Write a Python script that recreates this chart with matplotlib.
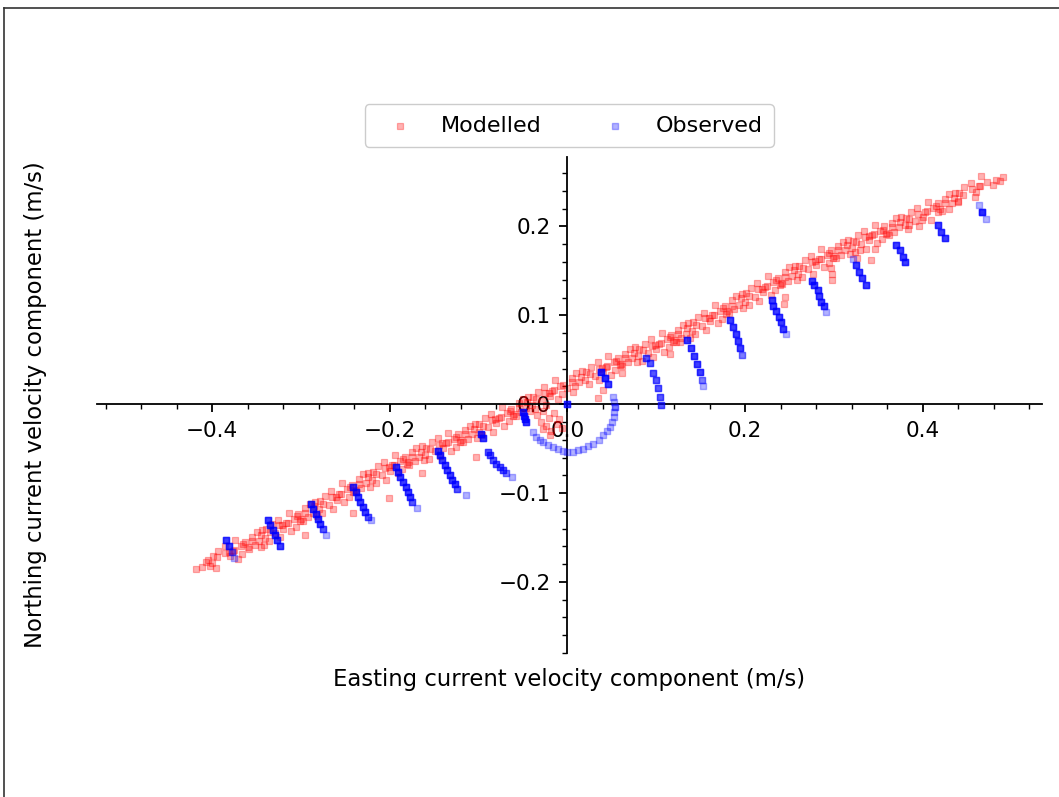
import numpy as np
import matplotlib
matplotlib.use("Agg")
import matplotlib.pyplot as plt
from matplotlib.ticker import MultipleLocator
from matplotlib.lines import Line2D

# ---------------- data ----------------
modelled_east = [
    -0.418, -0.412, -0.407, -0.402,
    -0.399, -0.393, -0.386, -0.381, -0.396,
    -0.377, -0.374, -0.371, -0.368, -0.366, -0.363,
    -0.358, -0.355, -0.352, -0.350, -0.347, -0.344, -0.342,
    -0.339, -0.336, -0.333, -0.329, -0.326, -0.324, -0.321,
    -0.317, -0.314, -0.311, -0.308, -0.306, -0.303, -0.301,
    -0.298, -0.295, -0.292, -0.290, -0.287, -0.284, -0.282,
    -0.279, -0.276, -0.273, -0.269, -0.266, -0.264, -0.261,
    -0.257, -0.254, -0.251, -0.248, -0.246, -0.243, -0.241,
    -0.238, -0.235, -0.232, -0.230, -0.227, -0.224, -0.222,
    -0.219, -0.216, -0.213, -0.209, -0.206, -0.204, -0.201,
    -0.197, -0.194, -0.191, -0.188, -0.186, -0.183, -0.181,
    -0.178, -0.175, -0.172, -0.170, -0.167, -0.164, -0.162,
    -0.159, -0.156, -0.153, -0.149, -0.146, -0.144, -0.141,
    -0.137, -0.134, -0.131, -0.128, -0.126, -0.123, -0.121,
    -0.118, -0.115, -0.112, -0.110, -0.107, -0.104, -0.102,
    -0.099, -0.096, -0.093, -0.089, -0.086, -0.084, -0.081,
    -0.077, -0.074, -0.071, -0.068, -0.066, -0.063, -0.061,
    -0.058, -0.055, -0.052, -0.050, -0.047, -0.044, -0.042,
    -0.039, -0.036, -0.033, -0.029, -0.026, -0.024, -0.021,
    -0.017, -0.014, -0.011, -0.008, -0.006,
    -0.034, -0.030, -0.027, -0.024, -0.021, -0.018, -0.015, -0.012, -0.009, -0.006, -0.020, -0.028,
    0.005, 0.008, 0.010, 0.013, 0.016,
    0.021, 0.024, 0.027, 0.031, 0.034, 0.036, 0.039,
    0.043, 0.046, 0.049, 0.052, 0.054, 0.057, 0.059,
    0.062, 0.065, 0.068, 0.070, 0.073, 0.076, 0.078,
    0.081, 0.084, 0.087, 0.091, 0.094, 0.096, 0.099,
    0.103, 0.106, 0.109, 0.112, 0.114, 0.117, 0.119,
    0.122, 0.125, 0.128, 0.130, 0.133, 0.136, 0.138,
    0.141, 0.144, 0.147, 0.151, 0.154, 0.156, 0.159,
    0.163, 0.166, 0.169, 0.172, 0.174, 0.177, 0.179,
    0.182, 0.185, 0.188, 0.190, 0.193, 0.196, 0.198,
    0.201, 0.204, 0.207, 0.211, 0.214, 0.216, 0.219,
    0.223, 0.226, 0.229, 0.232, 0.234, 0.237, 0.239,
    0.242, 0.245, 0.248, 0.250, 0.253, 0.256, 0.258,
    0.261, 0.264, 0.267, 0.271, 0.274, 0.276, 0.279,
    0.283, 0.286, 0.289, 0.292, 0.294, 0.297, 0.299,
    0.302, 0.305, 0.308, 0.310, 0.313, 0.316, 0.318,
    0.321, 0.324, 0.327, 0.331, 0.334, 0.336, 0.339,
    0.343, 0.346, 0.349, 0.352, 0.354, 0.357, 0.359,
    0.362, 0.365, 0.368, 0.370, 0.373, 0.376,
    0.381, 0.384, 0.387, 0.391, 0.394, 0.396,
    0.403, 0.406, 0.409, 0.412, 0.417,
    0.422, 0.425, 0.430, 0.433, 0.436,
    0.441, 0.447, 0.454, 0.459,
    0.463, 0.466, 0.472, 0.479,
    0.483, 0.487, 0.490,
    0.006, 0.040, 0.034, 0.062, 0.115, 0.127, 0.245, 0.244, 0.297, 0.298,
    0.298, 0.326, 0.342, 0.346, 0.329, 0.417, 0.430, 0.440, 0.399, 0.385,
    -0.296, -0.241, -0.345, -0.103, -0.164, -0.201,
]
modelled_north = [
    -0.185, -0.183, -0.178, -0.182,
    -0.171, -0.165, -0.160, -0.166, -0.184,
    -0.165, -0.153, -0.174, -0.160, -0.169, -0.155,
    -0.163, -0.149, -0.159, -0.144, -0.154, -0.142, -0.158,
    -0.141, -0.154, -0.135, -0.145, -0.130, -0.150, -0.136,
    -0.134, -0.122, -0.143, -0.129, -0.138, -0.124, -0.132,
    -0.131, -0.117, -0.127, -0.112, -0.122, -0.110, -0.126,
    -0.109, -0.122, -0.103, -0.113, -0.098, -0.118, -0.104,
    -0.101, -0.089, -0.110, -0.096, -0.105, -0.091, -0.099,
    -0.098, -0.084, -0.094, -0.079, -0.089, -0.077, -0.093,
    -0.076, -0.089, -0.070, -0.080, -0.065, -0.085, -0.071,
    -0.069, -0.057, -0.078, -0.064, -0.073, -0.059, -0.067,
    -0.068, -0.054, -0.064, -0.049, -0.059, -0.047, -0.063,
    -0.049, -0.062, -0.043, -0.053, -0.038, -0.058, -0.044,
    -0.044, -0.032, -0.053, -0.039, -0.048, -0.034, -0.042,
    -0.043, -0.029, -0.039, -0.024, -0.034, -0.022, -0.038,
    -0.022, -0.035, -0.016, -0.026, -0.011, -0.031, -0.017,
    -0.015, -0.003, -0.024, -0.010, -0.019, -0.005, -0.013,
    -0.013, 0.001, -0.009, 0.006, -0.004, 0.008, -0.008,
    0.008, -0.005, 0.014, 0.004, 0.019, -0.001, 0.013,
    0.015, 0.027, 0.006, 0.020, 0.011,
    -0.012, -0.020, -0.008, -0.025, -0.015, -0.030, -0.010, -0.022, -0.017, -0.027, -0.035, -0.028,
    0.030, 0.020, 0.035, 0.025, 0.037,
    0.036, 0.023, 0.042, 0.032, 0.047, 0.027, 0.041,
    0.042, 0.054, 0.033, 0.047, 0.038, 0.052, 0.044,
    0.043, 0.057, 0.047, 0.062, 0.052, 0.064, 0.048,
    0.062, 0.049, 0.068, 0.058, 0.073, 0.053, 0.067,
    0.068, 0.080, 0.059, 0.073, 0.064, 0.078, 0.070,
    0.070, 0.084, 0.074, 0.089, 0.079, 0.091, 0.075,
    0.092, 0.079, 0.098, 0.088, 0.103, 0.083, 0.097,
    0.100, 0.112, 0.091, 0.105, 0.096, 0.110, 0.102,
    0.103, 0.117, 0.107, 0.122, 0.112, 0.124, 0.108,
    0.125, 0.112, 0.131, 0.121, 0.136, 0.116, 0.130,
    0.132, 0.144, 0.123, 0.137, 0.128, 0.142, 0.134,
    0.135, 0.149, 0.139, 0.154, 0.144, 0.156, 0.140,
    0.156, 0.143, 0.162, 0.152, 0.167, 0.147, 0.161,
    0.163, 0.175, 0.154, 0.168, 0.159, 0.173, 0.165,
    0.164, 0.178, 0.168, 0.183, 0.173, 0.185, 0.169,
    0.184, 0.171, 0.190, 0.180, 0.195, 0.175, 0.189,
    0.190, 0.202, 0.181, 0.195, 0.186, 0.200, 0.192,
    0.190, 0.204, 0.194, 0.209, 0.199, 0.211,
    0.210, 0.197, 0.216, 0.206, 0.221, 0.201,
    0.216, 0.228, 0.207, 0.221, 0.226,
    0.217, 0.231, 0.236, 0.226, 0.238,
    0.238, 0.244, 0.249, 0.233,
    0.245, 0.257, 0.250, 0.247,
    0.252, 0.251, 0.256,
    0.014, 0.016, 0.007, 0.035, 0.057, 0.070, 0.121, 0.113, 0.153, 0.147,
    0.140, 0.164, 0.162, 0.175, 0.173, 0.2165, 0.220, 0.227, 0.207, 0.202,
    -0.147, -0.123, -0.161, -0.059, -0.078, -0.106,
]
# densest core of the modelled band
modelled_core_east = [
    -0.405, -0.400, -0.395, -0.385, -0.380, -0.375, -0.365, -0.360, -0.355,
    -0.345, -0.340, -0.335, -0.325, -0.320, -0.315, -0.305, -0.300, -0.295,
    -0.285, -0.280, -0.275, -0.265, -0.260, -0.255, -0.245, -0.240, -0.235,
    -0.225, -0.220, -0.215, -0.205, -0.200, -0.195, -0.185, -0.180, -0.175,
    -0.165, -0.160, -0.155, -0.145, -0.140, -0.135, -0.125, -0.120, -0.115,
    -0.105, -0.100, -0.095, -0.085, -0.080, -0.075, -0.065, -0.060, -0.055,
    -0.045, -0.040, -0.035, -0.025, -0.020, -0.015, -0.005, 0.000, 0.005,
    0.015, 0.020, 0.025, 0.035, 0.040, 0.045, 0.055, 0.060, 0.065,
    0.075, 0.080, 0.085, 0.095, 0.100, 0.105, 0.115, 0.120, 0.125,
    0.135, 0.140, 0.145, 0.155, 0.160, 0.165, 0.175, 0.180, 0.185,
    0.195, 0.200, 0.205, 0.215, 0.220, 0.225, 0.235, 0.240, 0.245,
    0.255, 0.260, 0.265, 0.275, 0.280, 0.285, 0.295, 0.300, 0.305,
    0.315, 0.320, 0.325, 0.335, 0.340, 0.345, 0.355, 0.360, 0.365,
    0.375, 0.380, 0.385, 0.395, 0.400, 0.405, 0.415, 0.420, 0.425,
    0.435, 0.440, 0.445, 0.455, 0.460, 0.465,
]
modelled_core_north = [
    -0.1755, -0.179, -0.1725, -0.167, -0.1705, -0.164, -0.1575, -0.161, -0.1545,
    -0.147, -0.1505, -0.144, -0.1365, -0.140, -0.1335, -0.126, -0.1295, -0.123,
    -0.115, -0.1185, -0.112, -0.104, -0.1075, -0.101, -0.093, -0.0965, -0.090,
    -0.082, -0.0855, -0.079, -0.0715, -0.075, -0.0685, -0.062, -0.0655, -0.059,
    -0.0535, -0.057, -0.0505, -0.0455, -0.049, -0.0425, -0.037, -0.0405, -0.034,
    -0.0275, -0.031, -0.0245, -0.0175, -0.021, -0.0145, -0.0075, -0.011, -0.0045,
    0.0025, -0.001, 0.0055, 0.0125, 0.009, 0.0155, 0.022, 0.0185, 0.025,
    0.031, 0.0275, 0.034, 0.040, 0.0365, 0.043, 0.049, 0.0455, 0.052,
    0.0575, 0.054, 0.0605, 0.066, 0.0625, 0.069, 0.0755, 0.072, 0.0785,
    0.086, 0.0825, 0.089, 0.097, 0.0935, 0.100, 0.108, 0.1045, 0.111,
    0.119, 0.1155, 0.122, 0.1295, 0.126, 0.1325, 0.140, 0.1365, 0.143,
    0.1505, 0.147, 0.1535, 0.1605, 0.157, 0.1635, 0.170, 0.1665, 0.173,
    0.179, 0.1755, 0.182, 0.188, 0.1845, 0.191, 0.1965, 0.193, 0.1995,
    0.205, 0.2015, 0.208, 0.214, 0.2105, 0.217, 0.223, 0.2195, 0.226,
    0.2325, 0.229, 0.2355, 0.2425, 0.239, 0.2455,
]

observed_east = [
    0.463, 0.467, 0.471,
    0.417, 0.421, 0.425,
    0.370, 0.374, 0.378, 0.380,
    0.322, 0.325, 0.328, 0.332, 0.336,
    0.275, 0.278, 0.282, 0.283, 0.286, 0.289, 0.291,
    0.230, 0.232, 0.235, 0.238, 0.241, 0.243, 0.246,
    0.183, 0.186, 0.190, 0.192, 0.194, 0.196,
    0.135, 0.139, 0.142, 0.146, 0.149, 0.151, 0.153,
    0.0886, 0.0927, 0.0964, 0.0994, 0.102, 0.104, 0.105,
    0.038, 0.042, 0.046, 0.0514, 0.0524, 0.0533, 0.0530, 0.0521, 0.050, 0.0476,
    0.044, 0.0401, 0.035, 0.0289, 0.023, 0.0176, 0.012, 0.0063, 0.000, -0.005,
    -0.011, -0.0162, -0.022, -0.0275, -0.031, -0.0349, -0.0387,
    0.0,
    -0.050, -0.049, -0.048, -0.047,
    -0.0968, -0.095, -0.0894, -0.0867, -0.0838, -0.080, -0.0762, -0.0725, -0.0687, -0.062,
    -0.1457, -0.1438, -0.1408, -0.1382, -0.1356, -0.1326, -0.1295, -0.1266, -0.124, -0.1146,
    -0.1926, -0.1908, -0.1881, -0.1851, -0.1821, -0.1795, -0.1768, -0.1745, -0.1689,
    -0.2414, -0.2384, -0.2358, -0.2331, -0.2302, -0.2275, -0.2245, -0.2215,
    -0.2883, -0.2865, -0.2835, -0.2809, -0.2782, -0.2752, -0.2714,
    -0.3372, -0.3345, -0.3315, -0.3288, -0.3266, -0.324,
    -0.384, -0.381, -0.378, -0.3758,
]
observed_north = [
    0.224, 0.216, 0.208,
    0.2016, 0.194, 0.1866,
    0.179, 0.173, 0.166, 0.160,
    0.163, 0.157, 0.149, 0.142, 0.134,
    0.139, 0.134, 0.128, 0.122, 0.115, 0.110, 0.104,
    0.117, 0.111, 0.105, 0.098, 0.092, 0.085, 0.079,
    0.095, 0.087, 0.079, 0.071, 0.063, 0.055,
    0.072, 0.063, 0.054, 0.045, 0.036, 0.027, 0.021,
    0.0515, 0.0458, 0.0346, 0.027, 0.0177, 0.0082, -0.001,
    0.036, 0.030, 0.023, 0.0082, 0.002, -0.003, -0.009, -0.0143, -0.020, -0.0255,
    -0.030, -0.0349, -0.040, -0.0443, -0.047, -0.0499, -0.052, -0.0537, -0.054, -0.0526,
    -0.0505, -0.0481, -0.0455, -0.0425, -0.040, -0.0368, -0.0312,
    0.0,
    -0.009, -0.013, -0.017, -0.020,
    -0.033, -0.0375, -0.0537, -0.0574, -0.063, -0.0668, -0.0706, -0.0743, -0.078, -0.0818,
    -0.0526, -0.0574, -0.063, -0.0687, -0.0743, -0.080, -0.0856, -0.0901, -0.0949, -0.1017,
    -0.0706, -0.0762, -0.0818, -0.0874, -0.0931, -0.0987, -0.1044, -0.110, -0.1163,
    -0.0931, -0.0987, -0.1044, -0.110, -0.1157, -0.1213, -0.1269, -0.1306,
    -0.1118, -0.1175, -0.1231, -0.1287, -0.1343, -0.140, -0.1467,
    -0.1298, -0.1363, -0.1419, -0.1475, -0.1532, -0.1599,
    -0.1524, -0.1599, -0.1663, -0.1727,
]
# number of coincident observations at each observed position
observed_count = [
    1, 5, 1,
    4, 4, 4,
    4, 4, 4, 4,
    1, 4, 4, 4, 4,
    4, 4, 4, 4, 4, 4, 1,
    4, 4, 4, 4, 4, 4, 1,
    4, 4, 4, 4, 4, 2,
    4, 4, 4, 4, 4, 2, 1,
    3, 3, 3, 3, 3, 3, 3,
    5, 5, 4, 1, 1, 2, 1, 1, 1, 1,
    1, 1, 1, 1, 1, 1, 1, 1, 1, 1,
    1, 1, 1, 1, 1, 1, 1,
    4,
    4, 4, 4, 4,
    4, 4, 3, 3, 3, 3, 3, 3, 2, 1,
    4, 4, 4, 4, 4, 4, 4, 4, 3, 1,
    4, 4, 4, 4, 4, 4, 4, 3, 1,
    4, 4, 4, 4, 4, 4, 3, 1,
    4, 4, 4, 4, 4, 3, 1,
    4, 4, 4, 4, 4, 4,
    4, 4, 2, 1,
]

series_labels = ["Modelled", "Observed"]
x_label = "Easting current velocity component (m/s)"
y_label = "Northing current velocity component (m/s)"

# ---------------- figure ----------------
W, H = 1059, 797
fig = plt.figure(figsize=(W / 100, H / 100), dpi=100)
ax = fig.add_axes([96.7 / W, 1 - 653 / H, (1041.7 - 96.7) / W, (653 - 156.7) / H])

mod_e = np.concatenate([modelled_east, modelled_core_east])
mod_n = np.concatenate([modelled_north, modelled_core_north])
obs_e = np.repeat(np.array(observed_east), observed_count)
obs_n = np.repeat(np.array(observed_north), observed_count)

ax.scatter(mod_e, mod_n, s=15, marker="s", color="red",
           alpha=0.3, linewidths=0.9, label=series_labels[0], zorder=2)
ax.scatter(obs_e, obs_n, s=16, marker="s", color="blue",
           alpha=0.3, linewidths=1.0, label=series_labels[1], zorder=3)

ax.set_xlim(-0.530, 0.534)
ax.set_ylim(-0.280, 0.2785)

for side in ("top", "right"):
    ax.spines[side].set_visible(False)
ax.spines["left"].set_position(("data", 0))
ax.spines["bottom"].set_position(("data", 0))
for side in ("left", "bottom"):
    ax.spines[side].set_linewidth(1.3)

ax.xaxis.set_major_locator(MultipleLocator(0.2))
ax.xaxis.set_minor_locator(MultipleLocator(0.04))
ax.yaxis.set_major_locator(MultipleLocator(0.1))
ax.yaxis.set_minor_locator(MultipleLocator(0.02))
ax.tick_params(which="major", length=6, width=1.3, labelsize=15.5, pad=6)
ax.tick_params(which="minor", length=3.5, width=1.0)

ax.set_xlabel(x_label, fontsize=16.4)
ax.set_ylabel(y_label, fontsize=16.4)
ax.xaxis.set_label_coords(0.5, -0.031)
ax.yaxis.set_label_coords(-0.053, 0.5)

leg = ax.legend(loc="lower center", bbox_to_anchor=(0.5, 1.0), ncol=2,
                fontsize=16, borderpad=0.5, handlelength=2.2, handletextpad=0.74,
                columnspacing=2.17, scatterpoints=1, borderaxespad=0.45,
                edgecolor="#cccccc", fancybox=True, framealpha=1.0)

# outer frame lines of the picture (left and top)
fig.add_artist(Line2D([3.5 / W, 3.5 / W], [0, 1 - 7.5 / H], color="#333333", lw=1.2))
fig.add_artist(Line2D([3.5 / W, 1], [1 - 7.5 / H, 1 - 7.5 / H], color="#333333", lw=1.2))

fig.savefig("out.png", dpi=100)
